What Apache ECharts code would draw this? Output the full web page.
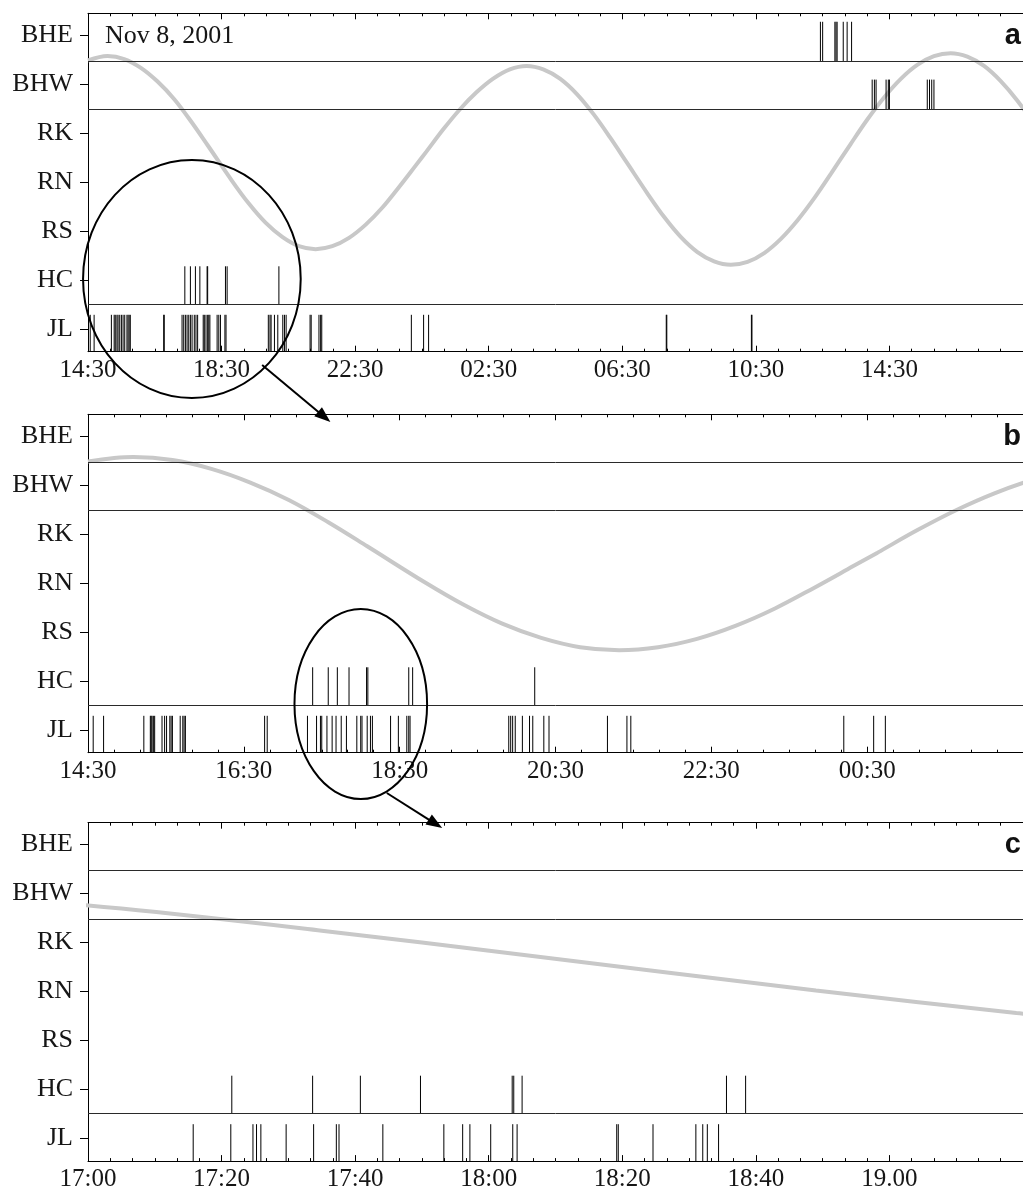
<!DOCTYPE html>
<html><head><meta charset="utf-8">
<script src="https://cdn.jsdelivr.net/npm/echarts@6/dist/echarts.min.js"></script>
<style>html,body{margin:0;padding:0;background:#fff;}#chart{width:1023px;height:1193px;}</style>
</head><body><div id="chart"></div>
<script>
// ---------------- data ----------------
const stations = ["JL", "HC", "RS", "RN", "RK", "BHW", "BHE"]; // value 0 (bottom) .. 6 (top)

const xLabelsA = ["14:30", "18:30", "22:30", "02:30", "06:30", "10:30", "14:30"];
const xLabelsB = ["14:30", "16:30", "18:30", "20:30", "22:30", "00:30"];
const xLabelsC = ["17:00", "17:20", "17:40", "18:00", "18:20", "18:40", "19.00"];

// tide curve (grey), level in row units; "D HH:MM" = day of Nov 2001 (default 8)
const tideTimes = ["14:30", "15:05", "15:35", "16:05", "16:35", "17:05", "17:35", "18:05", "18:49", "19:19",
  "19:49", "20:19", "20:49", "21:19", "21:49", "22:19", "22:49", "23:19", "23:49",
  "9 00:19", "9 00:38", "9 01:08", "9 01:38", "9 02:08", "9 02:38", "9 03:08", "9 03:38",
  "9 04:08", "9 04:38", "9 05:08", "9 05:38", "9 06:08", "9 06:38", "9 07:15", "9 07:45",
  "9 08:15", "9 08:45", "9 09:15", "9 09:45", "9 10:15", "9 10:45", "9 11:15", "9 11:45",
  "9 12:15", "9 12:45", "9 13:20", "9 13:50", "9 14:20", "9 14:50", "9 15:20", "9 15:50",
  "9 16:20", "9 16:50", "9 17:20", "9 17:50", "9 18:20", "9 18:50"];
const tideLevels = [5.48, 5.57, 5.51, 5.33, 5.05, 4.69, 4.24, 3.75, 3.02, 2.56,
  2.17, 1.88, 1.69, 1.63, 1.69, 1.86, 2.13, 2.48, 2.90,
  3.34, 3.62, 4.07, 4.48, 4.83, 5.11, 5.30, 5.37,
  5.30, 5.11, 4.80, 4.39, 3.91, 3.40, 2.77, 2.29,
  1.88, 1.57, 1.38, 1.31, 1.37, 1.55, 1.84, 2.22,
  2.67, 3.17, 3.77, 4.27, 4.72, 5.10, 5.39, 5.57,
  5.63, 5.56, 5.37, 5.06, 4.66, 4.18];

// panel a events
const aBHE = ["9 12:26", "9 12:30", "9 12:52", "9 12:54", "9 12:56", "9 13:07", "9 13:14", "9 13:22"];
const aBHW = ["9 13:59", "9 14:03", "9 14:06", "9 14:24", "9 14:28", "9 14:30", "9 15:38", "9 15:42", "9 15:46", "9 15:50"];
const aHC = ["17:24", "17:34", "17:43", "17:51", "18:04", "18:05", "18:37", "18:40", "20:13"];
const aJL = ["14:34", "14:41", "15:12", "15:17", "15:19", "15:22", "15:24", "15:27", "15:30", "15:33", "15:36",
  "15:40", "15:42", "15:44", "15:46", "16:46", "16:47", "17:19", "17:22", "17:25", "17:28", "17:31", "17:34",
  "17:37", "17:41", "17:44", "17:47", "17:57", "17:59", "18:02", "18:05", "18:07", "18:09", "18:22", "18:25",
  "18:28", "18:36", "18:38", "19:54", "19:57", "19:59", "20:05", "20:11", "20:20", "20:23", "20:26", "21:09",
  "21:11", "21:25", "21:28", "21:30", "9 00:11", "9 00:33", "9 00:42", "9 07:49", "9 07:50", "9 10:22", "9 10:23"];

// panel b events
const bHC = ["17:23", "17:35", "17:42", "17:51", "18:04:30", "18:05:30", "18:37", "18:40", "20:14"];
const bJL = ["14:34", "14:42", "15:13", "15:18", "15:18:40", "15:19:20", "15:20:20", "15:21:20", "15:27", "15:29",
  "15:30:30", "15:33", "15:34", "15:35", "15:41", "15:43", "15:44", "15:45", "16:46", "16:48", "17:19", "17:26",
  "17:29", "17:30", "17:34", "17:38", "17:41", "17:45", "17:49", "17:57", "18:00", "18:01", "18:05", "18:07:30",
  "18:09", "18:23", "18:29", "18:35:30", "18:37", "18:38", "19:54", "19:55:30", "19:57", "19:59", "20:04:30",
  "20:10", "20:12:30", "20:21", "20:25", "21:10", "21:25", "21:28", "9 00:12", "9 00:35", "9 00:44"];

// panel c events
const cHC = ["17:21:32", "17:33:38", "17:40:47", "17:49:47", "18:03:31", "18:03:45", "18:05:00", "18:35:36", "18:38:28"];
const cJL = ["17:15:45", "17:21:23", "17:24:42", "17:25:14", "17:25:53", "17:29:40", "17:33:47", "17:37:11",
  "17:37:35", "17:44:09", "17:53:17", "17:56:06", "17:57:11", "18:00:18", "18:03:36", "18:04:15", "18:19:10",
  "18:19:24", "18:24:36", "18:31:01", "18:32:03", "18:32:44", "18:34:25"];

// ---------------- helpers ----------------
function hoursOf(s) {
  let day = 8, t = s;
  if (s.indexOf(' ') > 0) { const p = s.split(' '); day = +p[0]; t = p[1]; }
  const q = t.split(':').map(Number);
  return (day - 8) * 24 + q[0] + q[1] / 60 + (q[2] || 0) / 3600;
}
const toXab = h => h - 14.5;          // hours after 14:30
const toXc = h => (h - 17) * 60;       // minutes after 17:00
function evts(list, row, toX) { return list.map(s => [toX(hoursOf(s)), row]); }
function tide(toX) { return tideTimes.map((s, i) => [toX(hoursOf(s)), tideLevels[i]]); }

const evA = [].concat(evts(aJL, 0, toXab), evts(aHC, 1, toXab), evts(aBHW, 5, toXab), evts(aBHE, 6, toXab));
const evB = [].concat(evts(bJL, 0, toXab), evts(bHC, 1, toXab));
const evC = [].concat(evts(cJL, 0, toXc), evts(cHC, 1, toXc));

// style constants (row units)
const YMIN = -0.463, YMAX = 6.443;
const tickLow = [YMIN, 0.51, 0, 0, 0, 4.48, 5.47];
const tickHigh = [0.29, 1.28, 0, 0, 0, 5.09, 6.27];
const FONT = 'Liberation Serif';

const panels = [
  { top: 13.3, max: 28, interval: 4, labels: xLabelsA, ev: evA, tide: tide(toXab) },
  { top: 414.3, max: 12, interval: 2, labels: xLabelsB, ev: evB, tide: tide(toXab) },
  { top: 822.7, max: 140, interval: 20, labels: xLabelsC, ev: evC, tide: tide(toXc) }
];

const chart = echarts.init(document.getElementById('chart'), null, { renderer: 'canvas' });

const grid = [], xAxis = [], yAxis = [], series = [];
panels.forEach((p, i) => {
  grid.push({ left: 88, top: p.top, width: 945, height: 338.4 });
  const fmt = v => {
    const k = Math.round(v / p.interval);
    return Math.abs(v - k * p.interval) < 1e-6 ? (p.labels[k] || '') : '';
  };
  ['bottom', 'top'].forEach(pos => {
    xAxis.push({
      type: 'value', gridIndex: i, position: pos, min: 0, max: p.max, interval: p.interval,
      axisLine: { show: true, onZero: false, lineStyle: { color: '#000', width: 1 } },
      axisTick: { show: true, inside: true, length: 6, lineStyle: { color: '#000', width: 1 } },
      minorTick: { show: true, splitNumber: 6, length: 3, lineStyle: { color: '#000', width: 1 } },
      splitLine: { show: false }, minorSplitLine: { show: false },
      axisLabel: pos === 'bottom'
        ? { show: true, margin: 6, fontFamily: FONT, fontSize: 25, color: '#161616', formatter: fmt,
            showMinLabel: true, showMaxLabel: false, hideOverlap: false }
        : { show: false }
    });
  });
  yAxis.push({
    type: 'value', gridIndex: i, min: YMIN, max: YMAX,
    axisLine: { show: true, onZero: false, lineStyle: { color: '#000', width: 1 } },
    axisTick: { show: true, inside: false, length: 8, customValues: [0, 1, 2, 3, 4, 5, 6], lineStyle: { color: '#000' } },
    axisLabel: { show: true, customValues: [0, 1, 2, 3, 4, 5, 6], margin: 15, fontFamily: FONT, fontSize: 26,
      color: '#161616', formatter: v => stations[Math.round(v)] },
    splitLine: { show: false }
  });
  series.push({
    type: 'line', xAxisIndex: 2 * i, yAxisIndex: i, data: p.tide, smooth: 0.35, showSymbol: false,
    lineStyle: { color: '#c8c8c8', width: 4 }, clip: true, silent: true, z: 1,
    markLine: {
      silent: true, symbol: 'none', label: { show: false },
      lineStyle: { color: '#2a2a2a', width: 1, type: 'solid' },
      emphasis: { disabled: true },
      data: [{ yAxis: 5.47 }, { yAxis: 4.48 }, { yAxis: 0.51 }]
    }
  });
  series.push({
    type: 'custom', xAxisIndex: 2 * i, yAxisIndex: i, data: p.ev, clip: true, z: 3, silent: true,
    encode: { x: 0, y: 1 },
    renderItem: function (params, api) {
      const x = api.value(0), r = api.value(1);
      const p1 = api.coord([x, tickLow[r]]), p2 = api.coord([x, tickHigh[r]]);
      return { type: 'line', shape: { x1: p1[0], y1: p1[1], x2: p2[0], y2: p2[1] },
        style: { stroke: '#000', lineWidth: 1 } };
    }
  });
});

chart.setOption({ animation: false, backgroundColor: '#fff', grid, xAxis, yAxis, series });

// ---------------- annotations (in data units of their panel) ----------------
const ellipses = [
  { panel: 0, t: 3.111, v: 1.02, rt: 3.259, rv: 2.429 },
  { panel: 1, t: 3.501, v: 0.531, rt: 0.851, rv: 1.939 }
];
const arrows = [
  { panel: 0, from: [5.215, -0.735], to: [7.259, -1.898] },
  { panel: 1, from: [3.835, -1.286], to: [4.546, -2.0] }
];
const px = (pi, pt) => chart.convertToPixel({ xAxisIndex: 2 * pi, yAxisIndex: pi }, pt);
const graphic = [];
ellipses.forEach(e => {
  const c = px(e.panel, [e.t, e.v]);
  const r = px(e.panel, [e.t + e.rt, e.v + e.rv]);
  graphic.push({ type: 'ellipse', silent: true, z: 100,
    shape: { cx: c[0], cy: c[1], rx: Math.abs(r[0] - c[0]), ry: Math.abs(r[1] - c[1]) },
    style: { fill: 'none', stroke: '#000', lineWidth: 2 } });
});
arrows.forEach(a => {
  const s = px(a.panel, a.from), t = px(a.panel, a.to);
  const dx = t[0] - s[0], dy = t[1] - s[1], len = Math.hypot(dx, dy);
  const ux = dx / len, uy = dy / len, L = 16, W = 6;
  const bx = t[0] - ux * L, by = t[1] - uy * L;
  graphic.push({ type: 'line', silent: true, z: 100,
    shape: { x1: s[0], y1: s[1], x2: bx + ux * 2, y2: by + uy * 2 },
    style: { stroke: '#000', lineWidth: 2 } });
  graphic.push({ type: 'polygon', silent: true, z: 100,
    shape: { points: [[t[0], t[1]], [bx - uy * W, by + ux * W], [bx + uy * W, by - ux * W]] },
    style: { fill: '#000' } });
});
// date stamp and panel letters, anchored to the BHE row of each panel
const dateAt = px(0, [0, 6]);
graphic.push({ type: 'text', silent: true, z: 100, x: dateAt[0] + 17, y: dateAt[1] + 1,
  style: { text: 'Nov 8, 2001', font: '26px "Liberation Serif"', fill: '#161616', textAlign: 'left', textVerticalAlign: 'middle' } });
['a', 'b', 'c'].forEach((ch, i) => {
  const p = px(i, [0, 6]);
  graphic.push({ type: 'text', silent: true, z: 100, x: 1021, y: p[1] + 1,
    style: { text: ch, font: 'bold 29px "Liberation Sans"', fill: '#111', textAlign: 'right', textVerticalAlign: 'middle' } });
});
chart.setOption({ graphic });
</script>
</body></html>
